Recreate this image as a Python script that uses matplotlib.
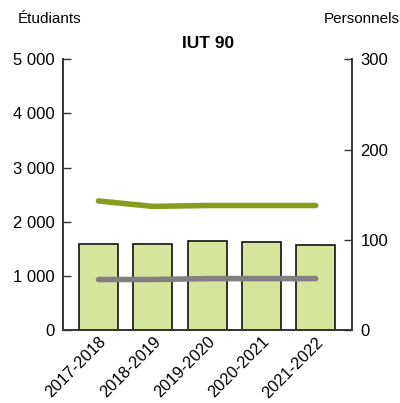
import numpy as np
import matplotlib.pyplot as plt

plt.rcParams['font.family'] = ['Liberation Sans', 'DejaVu Sans']

annees = ['2017-2018', '2018-2019', '2019-2020', '2020-2021', '2021-2022']
etudiants = [1585, 1585, 1640, 1633, 1567]
personnels_a = [143, 137, 138, 138, 138]
personnels_b = [56, 56, 57, 57, 57]

x = np.arange(len(annees))

fig = plt.figure(figsize=(4.0, 4.03), dpi=100, facecolor='white')
ax = fig.add_axes([0.158, 0.181, 0.722, 0.672])
ax.bar(x, etudiants, width=0.72, color='#d6e59c', edgecolor='#111111', linewidth=1.2, zorder=1)
ax.set_ylim(0, 5000)
ax.set_xlim(-0.65, 4.67)
ax.set_yticks([0, 1000, 2000, 3000, 4000, 5000])
ax.set_yticklabels(['0', '1 000', '2 000', '3 000', '4 000', '5 000'], fontsize=12)
ax.set_xticks(x)
ax.set_xticklabels(annees, rotation=45, ha='right', rotation_mode='anchor', fontsize=11.8)
ax.tick_params(axis='x', length=0, pad=3)
ax.tick_params(axis='y', direction='in', length=6, width=1, color='#333333', pad=6)

ax2 = ax.twinx()
ax2.plot(x, personnels_a, color='#8a9c1e', linewidth=4, solid_capstyle='round', zorder=3)
ax2.plot(x, personnels_b, color='#808080', linewidth=4, solid_capstyle='round', zorder=3)
ax2.set_ylim(0, 300)
ax2.set_yticks([0, 100, 200, 300])
ax2.set_yticklabels(['0', '100', '200', '300'], fontsize=12)
ax2.tick_params(axis='y', direction='in', length=6, width=1, color='#333333', pad=6)

for a in (ax, ax2):
    a.spines['top'].set_visible(False)
    for s in ('left', 'right', 'bottom'):
        a.spines[s].set_color('#333333')
        a.spines[s].set_linewidth(1.2)

fig.text(0.045, 0.952, 'Étudiants', fontsize=11, ha='left', va='center')
fig.text(0.81, 0.952, 'Personnels', fontsize=11, ha='left', va='center')
fig.text(0.52, 0.893, 'IUT 90', fontsize=12.5, fontweight='bold', ha='center', va='center')

plt.savefig('out.png', dpi=100, facecolor='white')
